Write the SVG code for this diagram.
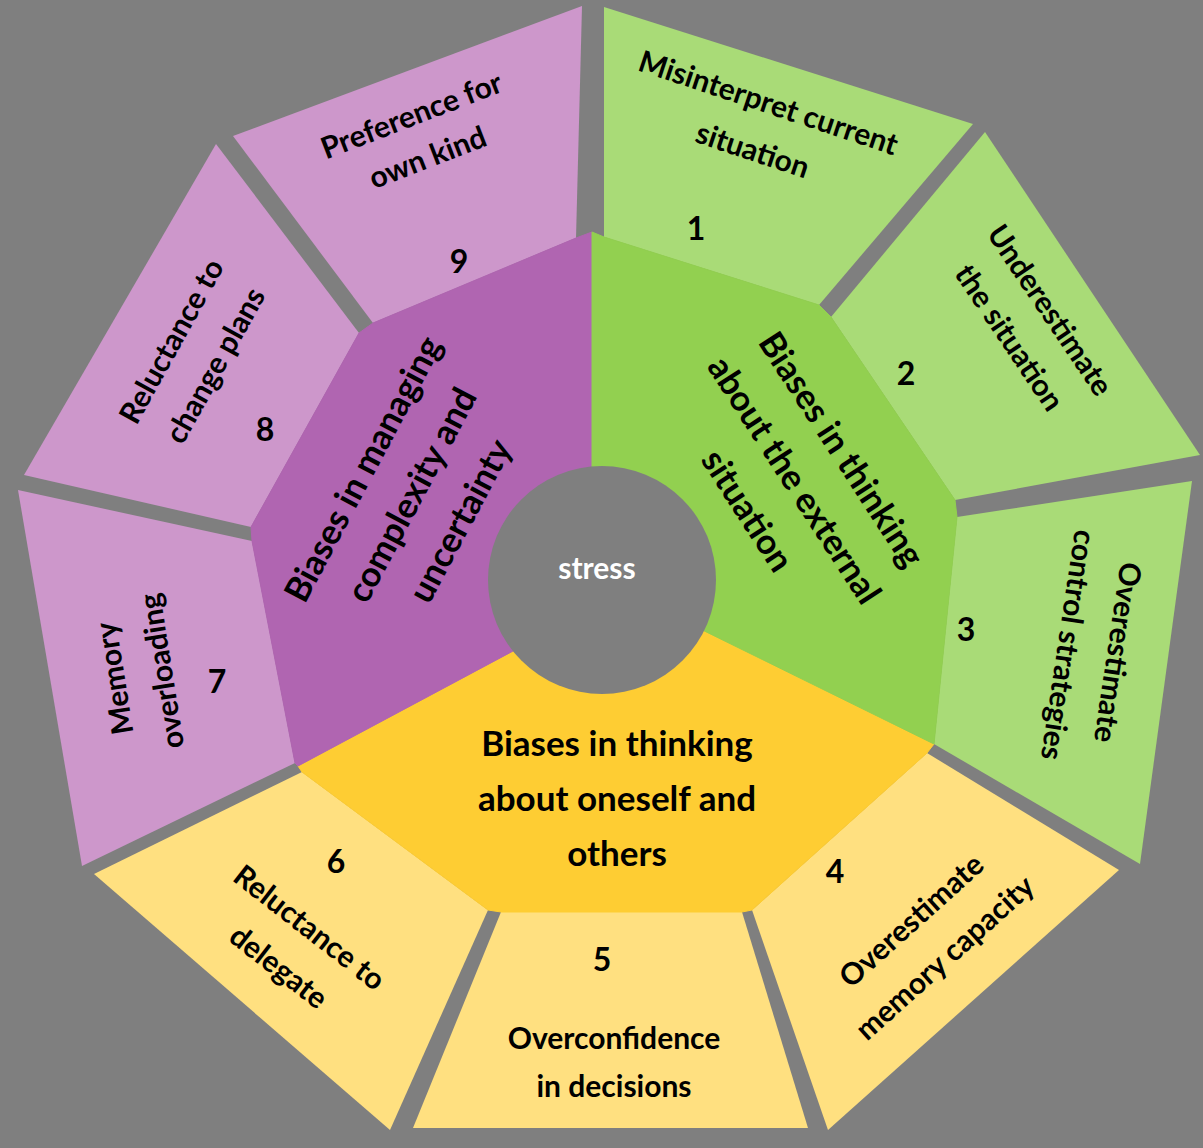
<svg xmlns="http://www.w3.org/2000/svg" width="1203" height="1148" viewBox="0 0 1203 1148">
  <style>
    .bg{fill:#7f7f7f}
    .o-pink{fill:#cd97cb}
    .o-green{fill:#a9db77}
    .o-yellow{fill:#ffe080}
    .i-purple{fill:#b065b1;stroke:#b065b1;stroke-width:1}
    .i-green{fill:#92d050;stroke:#92d050;stroke-width:1}
    .i-yellow{fill:#fecd33;stroke:#fecd33;stroke-width:1}
    .hubdisc{fill:#7f7f7f}
    text{font-family:Lato,"Open Sans","Liberation Sans",sans-serif;font-weight:700;fill:#000;text-anchor:middle;dominant-baseline:central}
    .lbl{font-size:30px}
    .num{font-size:32px}
    .core{font-size:35px}
    .hub{font-size:30px;fill:#fff}
  </style>

  <rect class="bg" x="0" y="0" width="1203" height="1148"/>

  <!-- outer ring: nine bias segments -->
  <g id="seg1">
    <polygon class="o-green" points="604,7 973,124 819,305 604,237"/>
    <g transform="translate(761 125) rotate(18.4)">
      <text class="lbl" y="-25">Misinterpret current</text>
      <text class="lbl" y="25">situation</text>
    </g>
    <text class="num" x="696" y="227">1</text>
  </g>

  <g id="seg2">
    <polygon class="o-green" points="985,132 1200,455 955,500 831,317"/>
    <g transform="translate(1031 323) rotate(56)">
      <text class="lbl" y="-24.5">Underestimate</text>
      <text class="lbl" y="24.5">the situation</text>
    </g>
    <text class="num" x="906" y="372">2</text>
  </g>

  <g id="seg3">
    <polygon class="o-green" points="1192,481 1140,864 934,744 957,517"/>
    <g transform="translate(1094.5 649) rotate(98.5)">
      <text class="lbl" y="-25">Overestimate</text>
      <text class="lbl" y="25">control strategies</text>
    </g>
    <text class="num" x="966" y="628">3</text>
  </g>

  <g id="seg4">
    <polygon class="o-yellow" points="1119,870 828,1130 752,910 927,753"/>
    <g transform="translate(927 938) rotate(-42)">
      <text class="lbl" y="-25">Overestimate</text>
      <text class="lbl" y="25">memory capacity</text>
    </g>
    <text class="num" x="835" y="870">4</text>
  </g>

  <g id="seg5">
    <polygon class="o-yellow" points="808,1128 413,1128 501,912 742,912"/>
    <g transform="translate(614 1061)">
      <text class="lbl" y="-24">Overconfidence</text>
      <text class="lbl" y="24">in decisions</text>
    </g>
    <text class="num" x="602" y="958">5</text>
  </g>

  <g id="seg6">
    <polygon class="o-yellow" points="390,1130 94,874 302,772 488,910"/>
    <g transform="translate(295 946) rotate(38)">
      <text class="lbl" y="-25">Reluctance to</text>
      <text class="lbl" y="25">delegate</text>
    </g>
    <text class="num" x="336" y="860">6</text>
  </g>

  <g id="seg7">
    <polygon class="o-pink" points="82,866 18,490 252,541 295,763"/>
    <g transform="translate(136.5 675) rotate(-99)">
      <text class="lbl" y="-24">Memory</text>
      <text class="lbl" y="24">overloading</text>
    </g>
    <text class="num" x="217" y="680">7</text>
  </g>

  <g id="seg8">
    <polygon class="o-pink" points="24,475 216,144 359,333 251,527"/>
    <g transform="translate(192 352.5) rotate(-61)">
      <text class="lbl" y="-25">Reluctance to</text>
      <text class="lbl" y="25">change plans</text>
    </g>
    <text class="num" x="265" y="428">8</text>
  </g>

  <g id="seg9">
    <polygon class="o-pink" points="233,136 582,6 576,238 373,323"/>
    <g transform="translate(419 135) rotate(-21)">
      <text class="lbl" y="-22.5">Preference for</text>
      <text class="lbl" y="22.5">own kind</text>
    </g>
    <text class="num" x="459" y="260">9</text>
  </g>

  <!-- inner ring: three bias groups -->
  <g id="core-self">
    <polygon class="i-yellow" points="934,744 927,753 752,910 742,912 501,912 488,910 302,772 298,766 515,650 592,595 680,619"/>
    <text class="core" x="617" y="742">Biases in thinking</text>
    <text class="core" x="617" y="797">about oneself and</text>
    <text class="core" x="617" y="852">others</text>
  </g>

  <g id="core-managing">
    <polygon class="i-purple" points="592,232 592,595 515,650 298,766 295,763 252,541 251,527 359,333 373,323 576,238"/>
    <g transform="translate(410 494) rotate(-62)">
      <text class="core" y="-55">Biases in managing</text>
      <text class="core" y="0">complexity and</text>
      <text class="core" y="55">uncertainty</text>
    </g>
  </g>

  <g id="core-external">
    <polygon class="i-green" points="592,232 604,237 819,305 831,317 955,500 957,517 934,744 680,619 592,595"/>
    <g transform="translate(796 479) rotate(57)">
      <text class="core" y="-56">Biases in thinking</text>
      <text class="core" y="0">about the external</text>
      <text class="core" y="56">situation</text>
    </g>
  </g>

  <!-- centre disc -->
  <g id="stress">
    <circle class="hubdisc" cx="602" cy="580" r="114"/>
    <text class="hub" x="597" y="567">stress</text>
  </g>
</svg>
